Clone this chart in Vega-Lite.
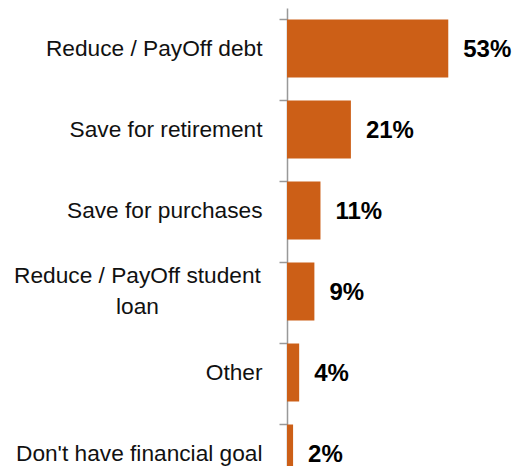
{
  "$schema": "https://vega.github.io/schema/vega-lite/v6.json",
  "autosize": {"type": "none"},
  "padding": {"left": 287, "top": 8, "right": 14, "bottom": 0},
  "width": 213,
  "height": 458,
  "background": "white",
  "config": {"view": {"stroke": null}},
  "data": {
    "values": [
      {"goal": "Reduce / PayOff debt", "share": 0.53},
      {"goal": "Save for retirement", "share": 0.21},
      {"goal": "Save for purchases", "share": 0.11},
      {"goal": "Reduce / PayOff student loan", "share": 0.09},
      {"goal": "Other", "share": 0.04},
      {"goal": "Don't have financial goal", "share": 0.02}
    ]
  },
  "encoding": {
    "y": {
      "field": "goal",
      "type": "nominal",
      "sort": null,
      "scale": {"range": [0, 486], "paddingInner": 0.284, "paddingOuter": 0.142},
      "axis": {
        "title": null,
        "bandPosition": 0,
        "domainColor": "#999999",
        "domainWidth": 1.5,
        "tickColor": "#999999",
        "tickWidth": 1.5,
        "tickSize": 8,
        "labelFont": "Liberation Sans",
        "labelFontSize": 22.7,
        "labelColor": "#111111",
        "labelLimit": 400,
        "labelLineHeight": 31,
        "labelExpr": "datum.value == 'Reduce / PayOff student loan' ? ['Reduce / PayOff student', 'loan'] : datum.value",
        "labelAlign": {"condition": {"test": "datum.value == 'Reduce / PayOff student loan'", "value": "center"}, "value": "right"},
        "labelPadding": {"condition": {"test": "datum.value == 'Reduce / PayOff student loan'", "value": 142}, "value": 17},
        "labelOffset": {"condition": {"test": "datum.value == 'Reduce / PayOff student loan'", "value": -16}, "value": 0}
      }
    },
    "x": {
      "field": "share",
      "type": "quantitative",
      "scale": {"domain": [0, 0.7]},
      "axis": null
    }
  },
  "layer": [
    {"mark": {"type": "bar", "color": "#CC5F17"}},
    {
      "mark": {"type": "text", "align": "left", "baseline": "middle", "dx": 15, "dy": 1, "font": "Liberation Sans", "fontSize": 24, "fontWeight": "bold", "color": "#000000"},
      "encoding": {"text": {"field": "share", "type": "quantitative", "format": ".0%"}}
    }
  ]
}
